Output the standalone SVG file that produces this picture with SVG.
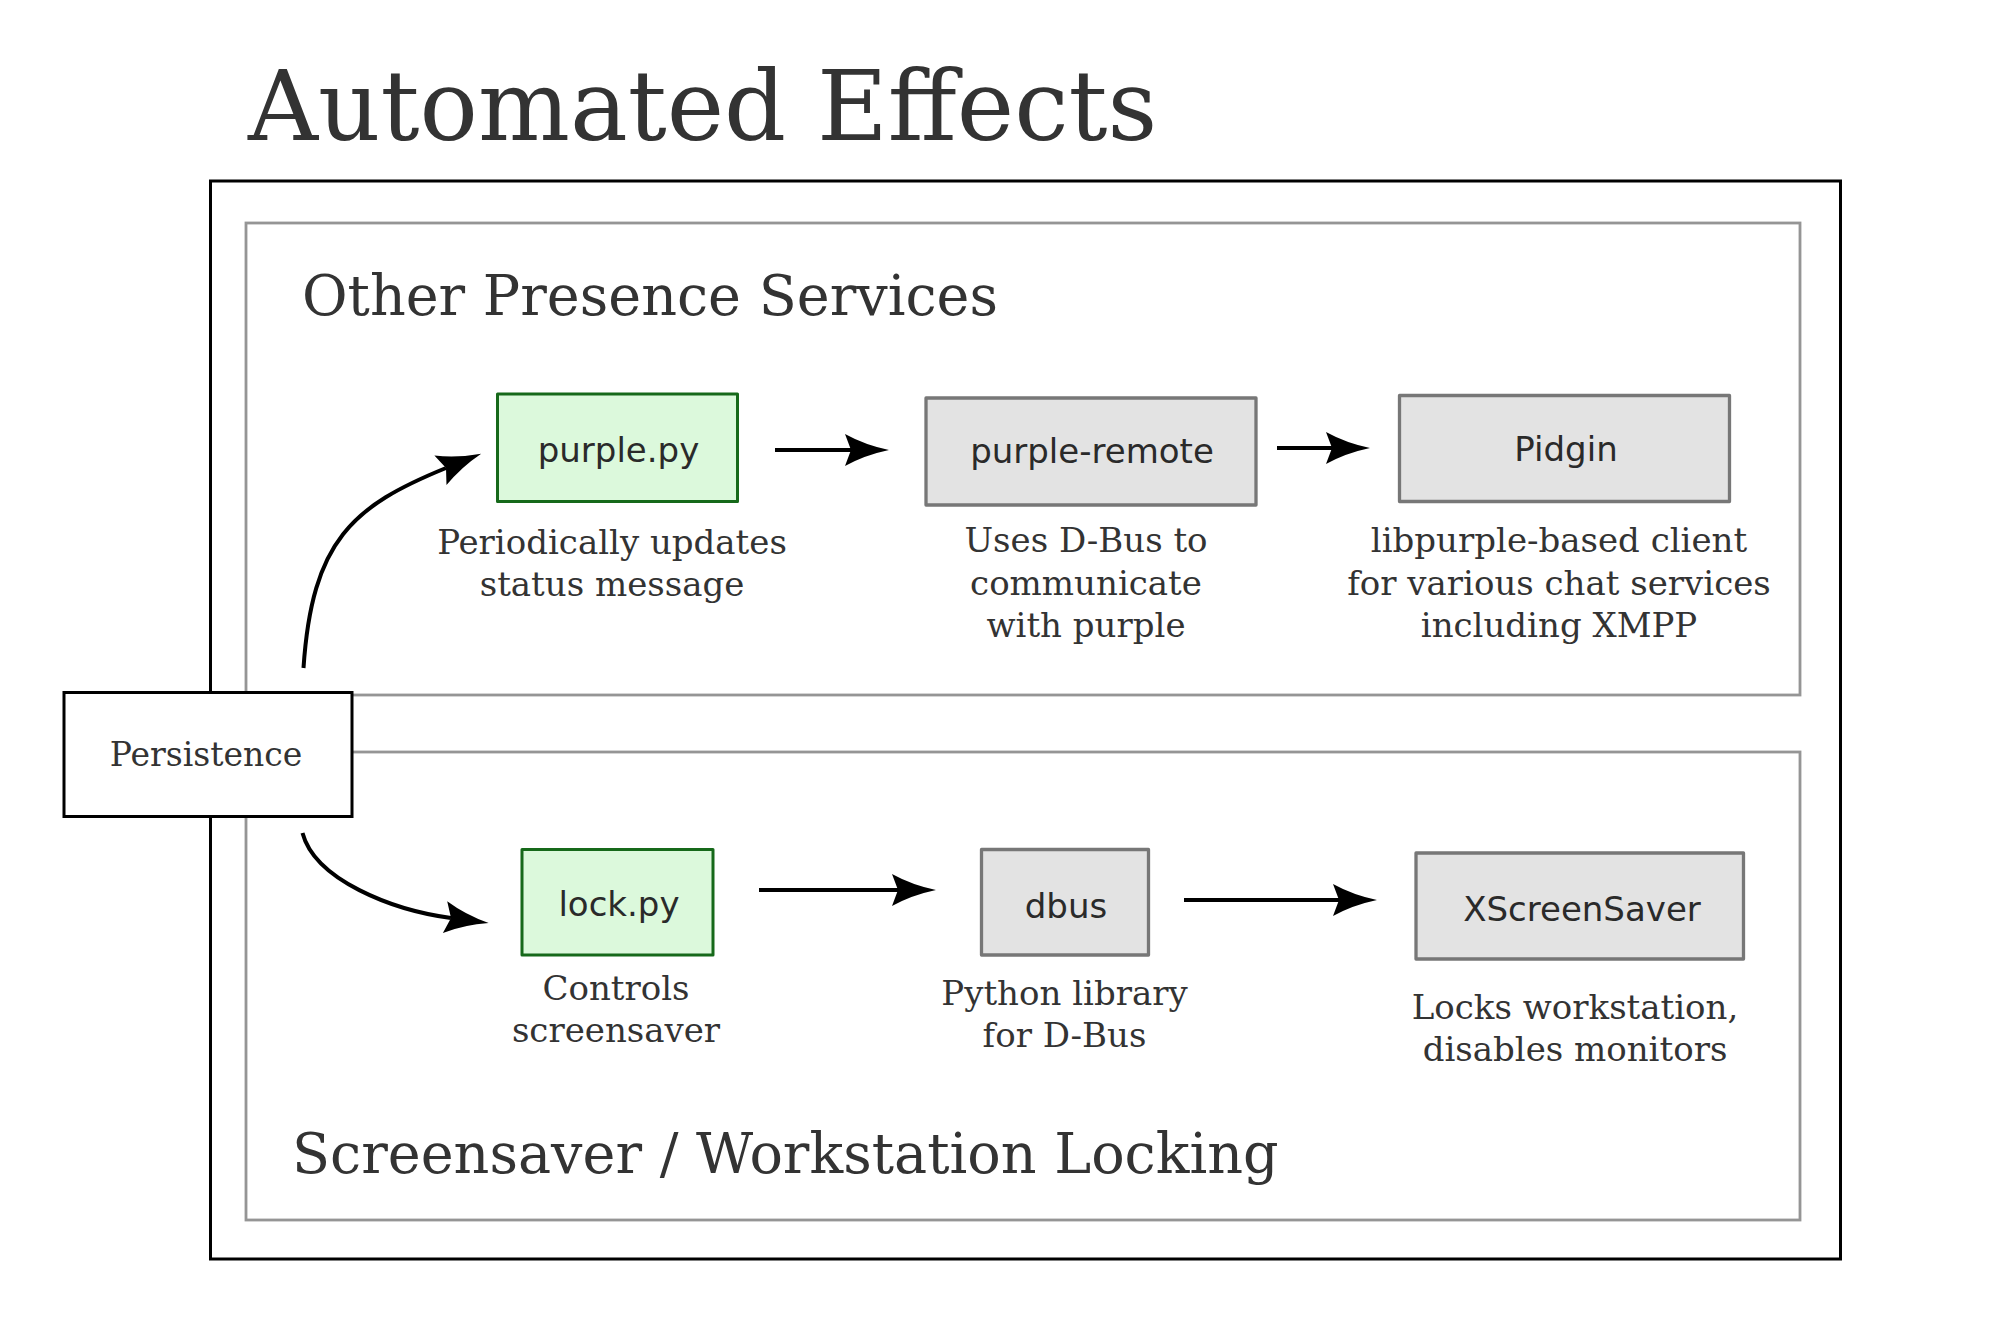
<svg xmlns="http://www.w3.org/2000/svg" width="2000" height="1326" viewBox="0 0 2000 1326">
<defs>
<style>
.serif{font-family:"DejaVu Serif","Liberation Serif",serif;fill:#333333;}
.sans{font-family:"DejaVu Sans","Liberation Sans",sans-serif;fill:#2a2a2a;font-size:34px;text-anchor:middle;}
.cap{font-size:34px;text-anchor:middle;}
.gbox{fill:#e3e3e3;stroke:#777777;stroke-width:3.3;stroke-linejoin:round;}
.grn{fill:#dcf9dc;stroke:#16691a;stroke-width:3;stroke-linejoin:round;}
.panel{fill:none;stroke:#959595;stroke-width:2.8;}
.conn{fill:none;stroke:#000000;stroke-width:4;marker-end:url(#ah);}
</style>
<marker id="ah" markerUnits="userSpaceOnUse" markerWidth="60" markerHeight="40" viewBox="-10 -20 60 40" refX="0" refY="0" orient="auto" overflow="visible">
<path d="M38,0 Q14,-5 -6,-16 L0,0 L-6,16 Q14,5 38,0 Z" fill="#000000"/>
</marker>
</defs>
<rect width="2000" height="1326" fill="#ffffff"/>
<text class="serif" x="248" y="140" font-size="97">Automated Effects</text>
<g id="outer">
<rect x="210.5" y="181" width="1630" height="1078" fill="none" stroke="#000000" stroke-width="3"/>
</g>
<g id="panel-presence">
<rect class="panel" x="246" y="223" width="1554" height="472"/>
<text class="serif" x="302" y="315" font-size="55.6">Other Presence Services</text>
</g>
<g id="panel-screensaver">
<rect class="panel" x="246" y="752" width="1554" height="468"/>
<text class="serif" x="292" y="1173" font-size="55.6">Screensaver / Workstation Locking</text>
</g>
<g id="connectors">
<path class="conn" d="M303.5,668 C312,540 353,506 446,468"/>
<path class="conn" d="M302.5,833 C315,880 392,910 451,918"/>
<line class="conn" x1="775" y1="450" x2="851" y2="450"/>
<line class="conn" x1="1277" y1="448" x2="1332" y2="448"/>
<line class="conn" x1="759" y1="890" x2="898" y2="890"/>
<line class="conn" x1="1184" y1="900" x2="1339" y2="900"/>
</g>
<g id="persistence">
<rect x="64" y="692.5" width="288" height="124" fill="#ffffff" stroke="#000000" stroke-width="3"/>
<text class="serif" x="206" y="765.5" font-size="33" text-anchor="middle">Persistence</text>
</g>
<g id="purple-py">
<rect class="grn" x="497.5" y="394" width="240" height="107.5"/>
<text class="sans" x="618.5" y="461.5">purple.py</text>
<text class="serif cap" x="612" y="554">Periodically updates</text>
<text class="serif cap" x="612" y="596">status message</text>
</g>
<g id="purple-remote">
<rect class="gbox" x="926" y="398" width="330" height="107"/>
<text class="sans" x="1092" y="463">purple-remote</text>
<text class="serif cap" x="1086" y="552">Uses D-Bus to</text>
<text class="serif cap" x="1086" y="594.5">communicate</text>
<text class="serif cap" x="1086" y="636.5">with purple</text>
</g>
<g id="pidgin">
<rect class="gbox" x="1399.5" y="395.5" width="330" height="106"/>
<text class="sans" x="1566" y="460.5">Pidgin</text>
<text class="serif cap" x="1559" y="552">libpurple-based client</text>
<text class="serif cap" x="1559" y="594.5">for various chat services</text>
<text class="serif cap" x="1559" y="636.5">including XMPP</text>
</g>
<g id="lock-py">
<rect class="grn" x="522" y="849.5" width="191" height="105.5"/>
<text class="sans" x="619" y="916">lock.py</text>
<text class="serif cap" x="616" y="1000">Controls</text>
<text class="serif cap" x="616" y="1042">screensaver</text>
</g>
<g id="dbus">
<rect class="gbox" x="981.5" y="849.5" width="167" height="105.5"/>
<text class="sans" x="1066" y="918">dbus</text>
<text class="serif cap" x="1064.5" y="1005">Python library</text>
<text class="serif cap" x="1064.5" y="1047">for D-Bus</text>
</g>
<g id="xscreensaver">
<rect class="gbox" x="1416" y="853" width="327.5" height="106"/>
<text class="sans" x="1582" y="921">XScreenSaver</text>
<text class="serif cap" x="1575" y="1019">Locks workstation,</text>
<text class="serif cap" x="1575" y="1061">disables monitors</text>
</g>
</svg>
